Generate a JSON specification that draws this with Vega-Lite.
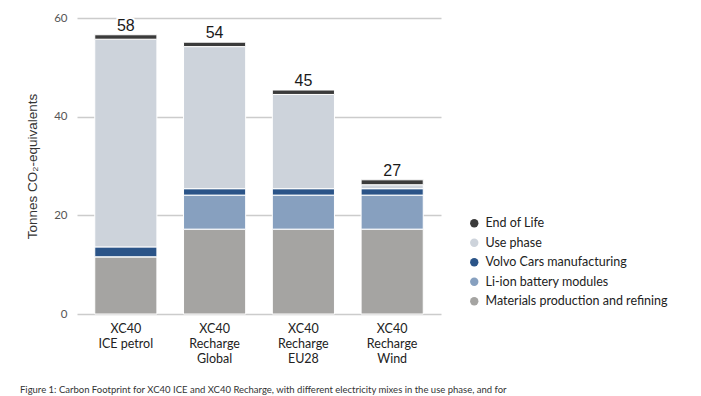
{
  "$schema": "https://vega.github.io/schema/vega-lite/v6.json",
  "autosize": {"type": "none"},
  "width": 364,
  "height": 296,
  "padding": {"left": 77, "top": 18, "right": 260, "bottom": 82},
  "background": "white",
  "config": {"view": {"stroke": null}},
  "title": {
    "text": "Figure 1: Carbon Footprint for XC40 ICE and XC40 Recharge, with different electricity mixes in the use phase, and for",
    "orient": "bottom",
    "anchor": "start",
    "frame": "group",
    "dx": -57,
    "offset": 20,
    "font": "Lato",
    "fontSize": 9.5,
    "fontWeight": "normal",
    "color": "#333333"
  },
  "datasets": {
    "parts": [
      {"model": "XC40|ICE petrol", "component": "Materials production and refining", "value": 11.6, "ord": 1},
      {"model": "XC40|ICE petrol", "component": "Li-ion battery modules", "value": 0, "ord": 2},
      {"model": "XC40|ICE petrol", "component": "Volvo Cars manufacturing", "value": 2.0, "ord": 3},
      {"model": "XC40|ICE petrol", "component": "Use phase", "value": 42.1, "ord": 4},
      {"model": "XC40|ICE petrol", "component": "End of Life", "value": 0.9, "ord": 5},
      {"model": "XC40|Recharge|Global", "component": "Materials production and refining", "value": 17.2, "ord": 1},
      {"model": "XC40|Recharge|Global", "component": "Li-ion battery modules", "value": 6.9, "ord": 2},
      {"model": "XC40|Recharge|Global", "component": "Volvo Cars manufacturing", "value": 1.3, "ord": 3},
      {"model": "XC40|Recharge|Global", "component": "Use phase", "value": 28.8, "ord": 4},
      {"model": "XC40|Recharge|Global", "component": "End of Life", "value": 0.9, "ord": 5},
      {"model": "XC40|Recharge|EU28", "component": "Materials production and refining", "value": 17.2, "ord": 1},
      {"model": "XC40|Recharge|EU28", "component": "Li-ion battery modules", "value": 6.9, "ord": 2},
      {"model": "XC40|Recharge|EU28", "component": "Volvo Cars manufacturing", "value": 1.3, "ord": 3},
      {"model": "XC40|Recharge|EU28", "component": "Use phase", "value": 19.1, "ord": 4},
      {"model": "XC40|Recharge|EU28", "component": "End of Life", "value": 0.9, "ord": 5},
      {"model": "XC40|Recharge|Wind", "component": "Materials production and refining", "value": 17.2, "ord": 1},
      {"model": "XC40|Recharge|Wind", "component": "Li-ion battery modules", "value": 6.9, "ord": 2},
      {"model": "XC40|Recharge|Wind", "component": "Volvo Cars manufacturing", "value": 1.3, "ord": 3},
      {"model": "XC40|Recharge|Wind", "component": "Use phase", "value": 0.8, "ord": 4},
      {"model": "XC40|Recharge|Wind", "component": "End of Life", "value": 1.0, "ord": 5}
    ],
    "totals": [
      {"model": "XC40|ICE petrol", "top": 56.6, "label": "58"},
      {"model": "XC40|Recharge|Global", "top": 55.1, "label": "54"},
      {"model": "XC40|Recharge|EU28", "top": 45.4, "label": "45"},
      {"model": "XC40|Recharge|Wind", "top": 27.2, "label": "27"}
    ]
  },
  "encoding": {
    "x": {
      "field": "model",
      "type": "nominal",
      "sort": ["XC40|ICE petrol", "XC40|Recharge|Global", "XC40|Recharge|EU28", "XC40|Recharge|Wind"],
      "scale": {"paddingInner": 0.3, "paddingOuter": 0.2},
      "axis": {
        "title": null,
        "labelExpr": "split(datum.label, '|')",
        "labelAngle": 0,
        "labelFont": "Lato",
        "labelFontSize": 12.5,
        "labelColor": "#222222",
        "labelLineHeight": 15,
        "labelPadding": 8,
        "ticks": false,
        "domain": false
      }
    }
  },
  "layer": [
    {
      "data": {"name": "parts"},
      "mark": {"type": "bar", "stroke": "white", "strokeWidth": 1},
      "encoding": {
        "y": {
          "field": "value",
          "type": "quantitative",
          "stack": "zero",
          "scale": {"domain": [0, 60], "nice": false},
          "axis": {
            "title": "Tonnes CO₂-equivalents",
            "titleFont": "Liberation Sans",
            "titleFontSize": 13.5,
            "titleFontWeight": "normal",
            "titleColor": "#333333",
            "titlePadding": 14,
            "values": [0, 20, 40, 60],
            "labelFont": "Lato",
            "labelFontSize": 11.5,
            "labelColor": "#555555",
            "labelPadding": 10,
            "ticks": false,
            "domain": false,
            "grid": true,
            "gridColor": "#cccccc",
            "gridWidth": 1.5
          }
        },
        "order": {"field": "ord", "type": "quantitative"},
        "color": {
          "field": "component",
          "type": "nominal",
          "scale": {
            "domain": ["End of Life", "Use phase", "Volvo Cars manufacturing", "Li-ion battery modules", "Materials production and refining"],
            "range": ["#3b3b3b", "#cdd3db", "#2b5488", "#87a0bf", "#a5a4a2"]
          },
          "legend": {
            "title": null,
            "orient": "none",
            "legendX": 391,
            "legendY": 199,
            "symbolType": "circle",
            "symbolSize": 70,
            "symbolStrokeWidth": 0,
            "labelFont": "Lato",
            "labelFontSize": 12.5,
            "labelColor": "#222222",
            "labelLimit": 0,
            "rowPadding": 6.5,
            "labelOffset": 5
          }
        }
      }
    },
    {
      "data": {"name": "totals"},
      "mark": {"type": "text", "baseline": "bottom", "dy": -1, "font": "Liberation Sans", "fontSize": 16, "color": "#ffffff", "stroke": "#ffffff", "strokeWidth": 4},
      "encoding": {
        "y": {"field": "top", "type": "quantitative"},
        "text": {"field": "label"}
      }
    },
    {
      "data": {"name": "totals"},
      "mark": {"type": "text", "baseline": "bottom", "dy": -1, "font": "Liberation Sans", "fontSize": 16, "color": "#1a1a1a"},
      "encoding": {
        "y": {"field": "top", "type": "quantitative"},
        "text": {"field": "label"}
      }
    }
  ]
}
